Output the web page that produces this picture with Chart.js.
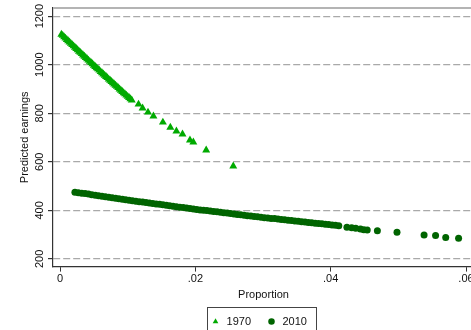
<!DOCTYPE html>
<html>
<head>
<meta charset="utf-8">
<script src="https://cdn.jsdelivr.net/npm/chart.js@4"></script>
<style>
html, body { margin:0; padding:0; background:#fff; overflow:hidden; width:471px; height:330px; }
#c { display:block; }
</style>
</head>
<body>
<canvas id="c" width="490" height="338"></canvas>
<script>
// 1970 cohort: proportion vs predicted earnings
const x1970 = [0.0002,0.0004,0.0006,0.0008,0.0010,0.0012,0.0014,0.0016,0.0018,0.0020,0.0022,0.0024,0.0026,0.0028,
  0.0030,0.0032,0.0034,0.0036,0.0038,0.0040,0.0042,0.0044,0.0046,0.0048,0.0050,0.0052,0.0054,0.0056,0.0058,
  0.0060,0.0062,0.0064,0.0066,0.0068,0.0070,0.0072,0.0074,0.0076,0.0078,0.0080,0.0082,0.0084,0.0086,0.0088,
  0.0090,0.0092,0.0094,0.0096,0.0098,0.0100,0.0102,0.0104,0.0106,
  0.0116,0.0122,0.0130,0.0138,0.0152,0.0163,0.0172,0.0181,0.0192,0.0197,0.0216,0.0256];
const y1970 = [1125,1120,1114,1109,1103,1098,1093,1087,1082,1077,1071,1066,1061,1055,
  1050,1045,1039,1034,1029,1024,1018,1013,1008,1003,997,992,987,982,977,
  971,966,961,956,951,946,940,935,930,925,920,915,910,905,899,
  894,889,884,879,874,869,864,859,854,
  837,821,804,788,763,742,726,714,689,681,648,582];

// 2010 cohort
const x2010 = [0.0022,0.0027,0.0032,0.0037,0.0042,0.0047,0.0052,0.0057,0.0062,0.0067,0.0072,0.0077,0.0082,0.0087,
  0.0092,0.0097,0.0102,0.0107,0.0112,0.0117,0.0122,0.0127,0.0132,0.0137,0.0142,0.0147,0.0152,0.0157,0.0162,
  0.0167,0.0172,0.0177,0.0182,0.0187,0.0192,0.0197,0.0202,0.0207,0.0212,0.0217,0.0222,0.0227,0.0232,0.0237,
  0.0242,0.0247,0.0252,0.0257,0.0262,0.0267,0.0272,0.0277,0.0282,0.0287,0.0292,0.0297,0.0302,0.0307,0.0312,
  0.0317,0.0322,0.0327,0.0332,0.0337,0.0342,0.0347,0.0352,0.0357,0.0362,0.0367,0.0372,0.0377,0.0382,0.0387,
  0.0392,0.0397,0.0402,0.0407,0.0412,
  0.0424,0.0431,0.0437,0.0444,0.0449,0.0454,0.0469,0.0498,0.0538,0.0555,0.0570,0.0589];
const y2010 = [475,473,471,469,467,464,462,460,458,456,454,452,450,448,
  446,444,442,440,438,436,434,432,430,428,426,425,423,421,419,
  417,415,413,412,410,408,406,404,402,401,399,397,395,394,392,
  390,389,387,385,383,382,380,378,377,375,374,372,370,369,367,
  366,364,362,361,359,358,356,355,353,352,350,349,347,346,345,
  343,342,340,339,337,
  330,328,326,323,320,319,316,310,299,296,288,285];

const seriesLabels = ['1970', '2010'];
const xTicks = [0, 0.02, 0.04, 0.06];
const xTickLabels = ['0', '.02', '.04', '.06'];
const yTicks = [200, 400, 600, 800, 1000, 1200];

const colours = { c1970: 'rgb(0,170,0)', c2010: 'rgb(0,100,0)', grid: '#a9a9a9', axis: '#333', text: '#111' };
const font = { family: 'Liberation Sans, Arial, sans-serif', size: 11 };

function toPoints(xs, ys) {
  return xs.map((x, i) => ({ x: x, y: ys[i] }));
}

// grey frame line on top of the plot region, plus a box round the legend
const framePlugin = {
  id: 'frame',
  afterLayout(chart) {
    // nudge the legend a little left and up, as in the original
    const lg = chart.legend;
    lg.left -= 5; lg.right -= 5;
    lg.top -= 1; lg.bottom -= 1;
  },
  afterDraw(chart) {
    const { ctx, chartArea } = chart;
    ctx.save();
    ctx.strokeStyle = '#b4b4b4';
    ctx.lineWidth = 2;
    ctx.beginPath();
    ctx.moveTo(chartArea.left, chartArea.top);
    ctx.lineTo(chartArea.right + 20, chartArea.top);
    ctx.stroke();

    const boxes = chart.legend.legendHitBoxes;
    if (boxes && boxes.length) {
      let l = Infinity, r = -Infinity, t = Infinity, b = -Infinity;
      boxes.forEach(h => {
        l = Math.min(l, h.left); r = Math.max(r, h.left + h.width);
        t = Math.min(t, h.top); b = Math.max(b, h.top + h.height);
      });
      ctx.strokeStyle = '#444';
      ctx.lineWidth = 1;
      ctx.strokeRect(Math.round(l - 3) + 0.5, Math.round(t - 9) + 0.5, Math.round(r - l + 12), Math.round(b - t + 18));
    }
    ctx.restore();
  }
};

const ctx = document.getElementById('c').getContext('2d');
const chart = new Chart(ctx, {
  type: 'scatter',
  data: {
    datasets: [
      { label: seriesLabels[0], data: toPoints(x1970, y1970), pointStyle: 'triangle', pointRadius: 4.6,
        backgroundColor: colours.c1970, borderColor: colours.c1970, borderWidth: 0 },
      { label: seriesLabels[1], data: toPoints(x2010, y2010), pointStyle: 'circle', pointRadius: 3.5,
        backgroundColor: colours.c2010, borderColor: colours.c2010, borderWidth: 0 }
    ]
  },
  options: {
    responsive: false,
    animation: false,
    layout: { padding: { top: 8, right: 16, left: 0, bottom: 0 } },
    plugins: {
      tooltip: { enabled: false },
      legend: {
        position: 'bottom',
        fullSize: false,
        labels: { usePointStyle: true, boxWidth: 11, boxHeight: 4.6, padding: 15, font: font, color: colours.text }
      }
    },
    scales: {
      x: {
        type: 'linear', min: -0.00104, max: 0.06118,
        afterBuildTicks: s => { s.ticks = xTicks.map(v => ({ value: v })); },
        ticks: { padding: 1, font: font, color: colours.text, maxRotation: 0,
                 callback: v => xTickLabels[xTicks.indexOf(v)] },
        grid: { drawOnChartArea: false, tickLength: 5, tickColor: colours.axis },
        border: { color: colours.axis, width: 1.2 },
        title: { display: true, text: 'Proportion', font: font, color: colours.text, padding: { top: 2, bottom: 0 } }
      },
      y: {
        min: 168.4, max: 1233.5,
        afterBuildTicks: s => { s.ticks = yTicks.map(v => ({ value: v })); },
        afterFit: s => { s.width = 53; },
        ticks: { font: font, color: colours.text, minRotation: 90, maxRotation: 90, crossAlign: 'center', padding: -4,
                 callback: v => String(v) },
        grid: { color: colours.grid, lineWidth: 1.2, tickColor: colours.axis, tickLength: 5, tickBorderDash: [] },
        border: { dash: [7, 3], color: colours.axis, width: 1.2 },
        title: { display: true, text: 'Predicted earnings', font: font, color: colours.text, padding: { top: 18, bottom: 0 } }
      }
    }
  },
  plugins: [framePlugin]
});
</script>
</body>
</html>
